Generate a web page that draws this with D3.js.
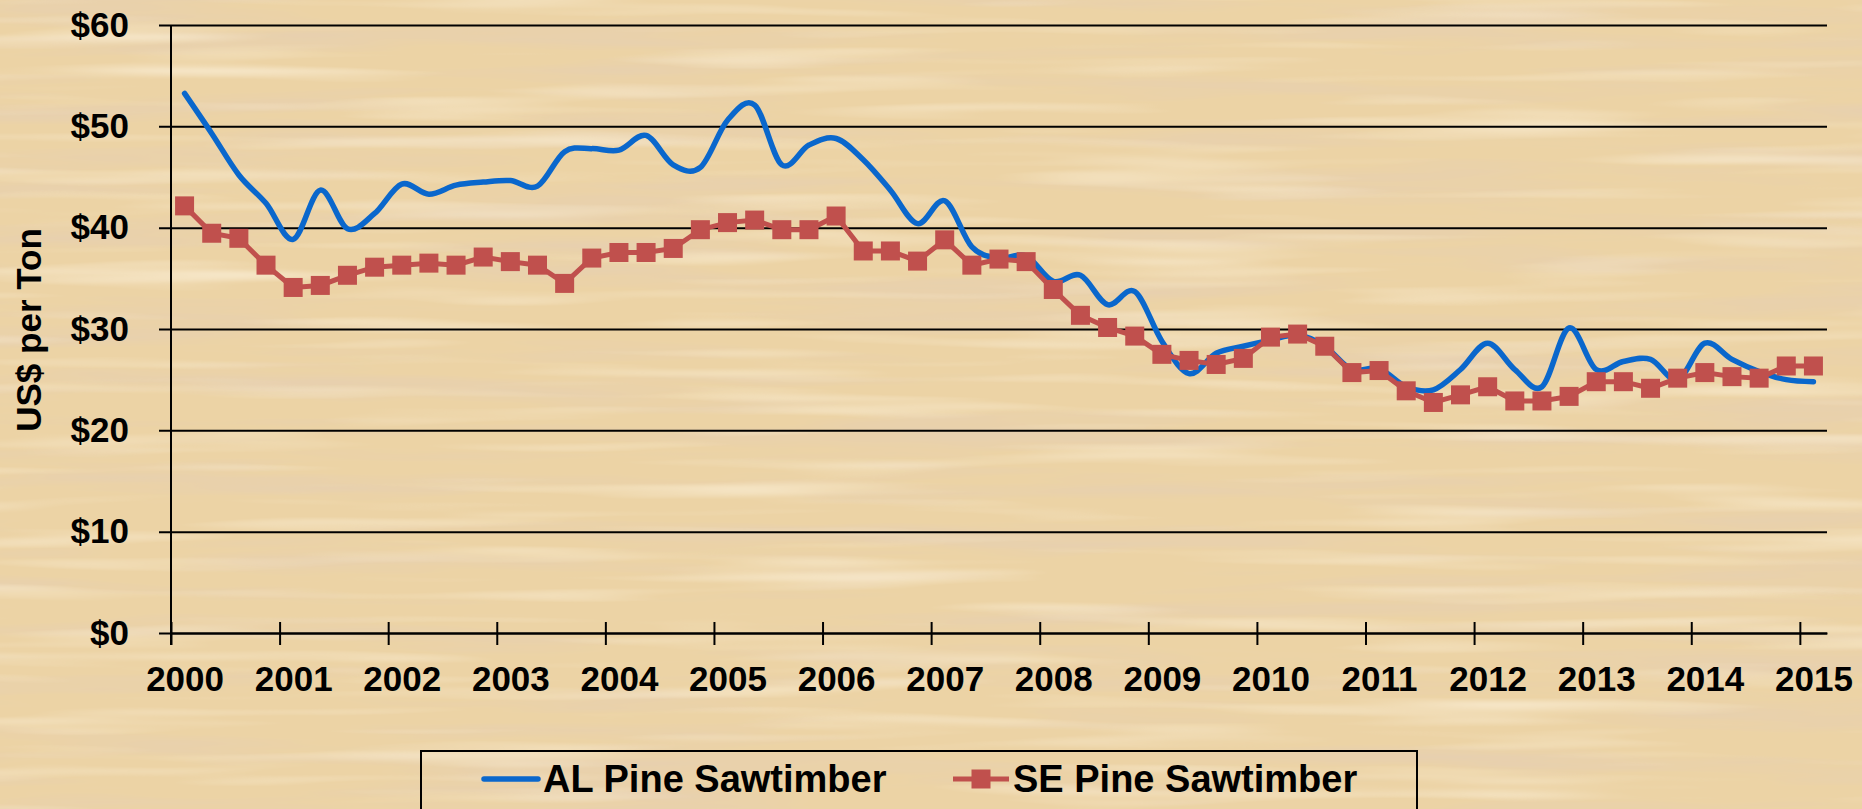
<!DOCTYPE html>
<html lang="en">
<head>
  <meta charset="UTF-8">
  <title>Pine Sawtimber Prices</title>
  <style>
    body { margin: 0; background: #ecd3a6; }
    svg { display: block; }
    text { font-family: Arial, "Liberation Sans", sans-serif; font-weight: bold; fill: #000; }
  </style>
</head>
<body>
  <svg width="1862" height="809"></svg>
  <script src="https://cdn.jsdelivr.net/npm/d3@7/dist/d3.min.js"></script>
  <script>
    // quarterly prices, 2000 Q1 .. 2015 Q1
    var years = ['2000', '2001', '2002', '2003', '2004', '2005', '2006', '2007',
      '2008', '2009', '2010', '2011', '2012', '2013', '2014', '2015']
    var yTicks = [0, 10, 20, 30, 40, 50, 60]
    var seriesNames = ['AL Pine Sawtimber', 'SE Pine Sawtimber']

    var alPine = [53.25, 49.3, 45.2, 42.4, 38.85, 43.7, 39.9, 41.4, 44.3, 43.3,
      44.2, 44.5, 44.65, 44.1, 47.5, 47.8, 47.65, 49.1, 46.2, 45.95,
      50.6, 52.1, 46.2, 48.15, 48.8, 46.7, 43.7, 40.4, 42.65, 38.1,
      37.0, 37.2, 34.7, 35.3, 32.4, 33.7, 28.8, 25.6, 27.6, 28.3,
      28.9, 29.4, 28.3, 26.0, 26.1, 24.3, 24.0, 26.0, 28.6, 26.0,
      24.3, 30.1, 26.0, 26.8, 27.0, 25.0, 28.6, 27.0, 25.8, 25.0, 24.8]

    var sePine = [42.15, 39.45, 38.95, 36.3, 34.1, 34.3, 35.3, 36.1, 36.3, 36.5,
      36.3, 37.1, 36.65, 36.3, 34.5, 37.0, 37.55, 37.55, 37.95, 39.8,
      40.5, 40.75, 39.8, 39.8, 41.15, 37.7, 37.7, 36.7, 38.8, 36.3,
      36.9, 36.65, 33.9, 31.35, 30.15, 29.3, 27.5, 26.9, 26.5, 27.1,
      29.2, 29.5, 28.3, 25.7, 25.9, 23.9, 22.75, 23.5, 24.3, 22.9,
      22.9, 23.35, 24.8, 24.8, 24.15, 25.15, 25.7, 25.3, 25.15, 26.35, 26.35]

    var svg = d3.select('svg')
    var W = 1862, H = 809
    var plotLeft = 171, plotRight = 1827, plotTop = 25, plotBottom = 633

    // wood texture background
    var defs = svg.append('defs')
    var grain = defs.append('filter').attr('id', 'grain')
      .attr('x', 0).attr('y', 0).attr('width', '100%').attr('height', '100%')
    grain.append('feTurbulence')
      .attr('type', 'fractalNoise')
      .attr('baseFrequency', '0.0025 0.04')
      .attr('numOctaves', 3)
      .attr('seed', 11)
    grain.append('feColorMatrix')
      .attr('type', 'matrix')
      .attr('values', '0 0 0 0 0.80  0 0 0 0 0.63  0 0 0 0 0.43  2.4 0 0 0 -1.12')

    var light = defs.append('filter').attr('id', 'light')
      .attr('x', 0).attr('y', 0).attr('width', '100%').attr('height', '100%')
    light.append('feTurbulence')
      .attr('type', 'fractalNoise')
      .attr('baseFrequency', '0.003 0.06')
      .attr('numOctaves', 2)
      .attr('seed', 4)
    light.append('feColorMatrix')
      .attr('type', 'matrix')
      .attr('values', '0 0 0 0 0.96  0 0 0 0 0.86  0 0 0 0 0.68  0 1.6 0 0 -0.82')

    svg.append('rect').attr('width', W).attr('height', H).attr('fill', '#ecd3a5')
    svg.append('rect').attr('width', W).attr('height', H).attr('filter', 'url(#grain)')
    svg.append('rect').attr('width', W).attr('height', H).attr('filter', 'url(#light)')

    var x = d3.scaleLinear().domain([0, alPine.length]).range([plotLeft, plotRight])
    var band = x(1) - x(0)
    var y = d3.scaleLinear().domain([0, 60]).range([plotBottom, plotTop])

    function xc(i) { return x(i + 0.5) }

    // y gridlines + labels
    var yAxis = svg.append('g')
      .attr('transform', 'translate(' + plotLeft + ',0)')
      .call(d3.axisLeft(y).tickValues(yTicks).tickSize(-(plotRight - plotLeft)).tickSizeOuter(0)
        .tickFormat(function(d) { return '$' + d }))
    yAxis.select('.domain').remove()
    yAxis.selectAll('.tick line')
      .attr('x1', -12)
      .attr('stroke', '#000')
      .attr('stroke-width', 2)
    yAxis.selectAll('.tick text')
      .attr('x', -42)
      .attr('font-size', '35px')
      .attr('font-family', 'Arial, "Liberation Sans", sans-serif')

    // x axis
    var xAxis = svg.append('g')
      .attr('transform', 'translate(0,' + plotBottom + ')')
      .call(d3.axisBottom(x).tickValues(d3.range(0, alPine.length, 4)).tickSize(12).tickSizeOuter(0)
        .tickFormat(function(d) { return years[d / 4] }))
    xAxis.select('.domain').attr('stroke', '#000').attr('stroke-width', 2)
    xAxis.selectAll('.tick line')
      .attr('y1', -11)
      .attr('stroke', '#000')
      .attr('stroke-width', 2)
    xAxis.selectAll('.tick text')
      .attr('x', band / 2)
      .attr('y', 33)
      .attr('font-size', '35px')
      .attr('font-family', 'Arial, "Liberation Sans", sans-serif')

    // y axis line
    svg.append('line')
      .attr('x1', plotLeft).attr('x2', plotLeft)
      .attr('y1', plotTop).attr('y2', plotBottom + 12)
      .attr('stroke', '#000').attr('stroke-width', 2)

    svg.append('text')
      .attr('transform', 'translate(41,330) rotate(-90)')
      .attr('text-anchor', 'middle')
      .attr('font-size', '35px')
      .text('US$ per Ton')

    // AL line (smoothed)
    var smooth = d3.line()
      .x(function(d, i) { return xc(i) })
      .y(function(d) { return y(d) })
      .curve(d3.curveCardinal.tension(0))

    svg.append('path')
      .datum(alPine)
      .attr('d', smooth)
      .attr('fill', 'none')
      .attr('stroke', '#0a67cc')
      .attr('stroke-width', 5.5)
      .attr('stroke-linecap', 'round')

    // SE line with square markers
    var straight = d3.line()
      .x(function(d, i) { return xc(i) })
      .y(function(d) { return y(d) })

    svg.append('path')
      .datum(sePine)
      .attr('d', straight)
      .attr('fill', 'none')
      .attr('stroke', '#c0504d')
      .attr('stroke-width', 5)

    var ms = 19
    svg.selectAll('.mk')
      .data(sePine)
      .enter()
      .append('rect')
      .attr('class', 'mk')
      .attr('x', function(d, i) { return xc(i) - ms / 2 })
      .attr('y', function(d) { return y(d) - ms / 2 })
      .attr('width', ms)
      .attr('height', ms)
      .attr('fill', '#c0504d')

    // legend
    var lg = svg.append('g')
    lg.append('rect')
      .attr('x', 421).attr('y', 751)
      .attr('width', 996).attr('height', 70)
      .attr('fill', 'none')
      .attr('stroke', '#000')
      .attr('stroke-width', 2)
    lg.append('line')
      .attr('x1', 484).attr('x2', 538)
      .attr('y1', 779).attr('y2', 779)
      .attr('stroke', '#0a67cc').attr('stroke-width', 5.5)
      .attr('stroke-linecap', 'round')
    lg.append('text')
      .attr('x', 543).attr('y', 792)
      .attr('font-size', '38px')
      .text(seriesNames[0])
    lg.append('line')
      .attr('x1', 953).attr('x2', 1009)
      .attr('y1', 779).attr('y2', 779)
      .attr('stroke', '#c0504d').attr('stroke-width', 5)
    lg.append('rect')
      .attr('x', 981 - ms / 2).attr('y', 779 - ms / 2)
      .attr('width', ms).attr('height', ms)
      .attr('fill', '#c0504d')
    lg.append('text')
      .attr('x', 1013).attr('y', 792)
      .attr('font-size', '38px')
      .text(seriesNames[1])
  </script>
</body>
</html>
